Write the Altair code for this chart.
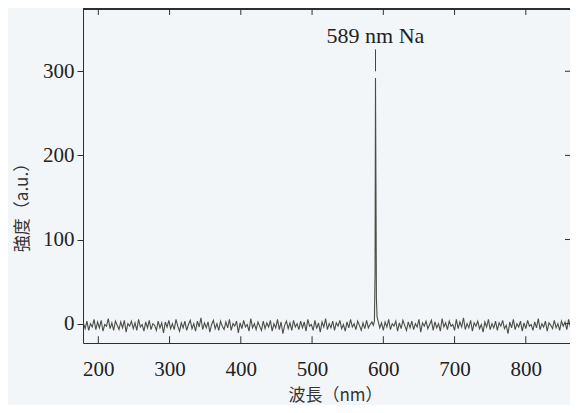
import altair as alt
import pandas as pd

# Wavelength grid (nm) of the spectrometer and intensity
left_start, left_step = 179, 2.5     # 179 ... 584 nm
right_start, right_step = 592.5, 2.5  # 592.5 ... 872.5 nm

left_intensity = [
    1, -6, 3, -8, 0, -4, 5, -7, 2, -5, 4, -9, -1, -3, 6, -6, 1, -8, 3, -2,
    -7, 2, -5, 4, -10, 0, -3, 3, -6, 1, -8, 5, -4, -1, -9, 2, -5, 4, -7, 0,
    -2, -8, 3, -5, 1, -11, 2, -4, 4, -6, 0, -7, 5, -3, -9, 1, -5, 3, -8, -1,
    4, -6, 0, -9, 3, -4, 7, -7, 1, -5, 2, -10, -1, 4, -6, 0, -8, 3, -3, -7,
    2, -5, 5, -8, 0, -3, 3, -11, 1, -6, 4, -4, -1, -9, 6, -5, 0, -7, 2, -3,
    -8, 3, -6, 1, -4, 4, -9, 0, -5, 5, -7, 2, -12, -2, 3, -6, 1, -8, 4, -4,
    0, -7, 3, -5, 2, -9, 5, -3, -1, -8, 4, -6, 1, -10, 2, -4, 6, -7, 0, -5,
    3, -8, 1, -3, 4, -6, -1, -9, 2, -5, 5, -4, 0, -7, 3, -2, -8, 1, -6, 4,
    -5, -1, 2,
]
peak_wavelength = [586.0, 587.5, 588.4, 589.0, 589.6, 590.3, 591.2]
peak_intensity = [-2, 3, 60, 292, 175, 30, 8]
right_intensity = [
    4, -5, 1, -8, 2, -4, 5, -7, 0, -3, 3, -9, 1, -6, 4, -2, -8, 2, -5, 3,
    -7, 0, -4, 5, -10, 1, -3, 3, -6, -1, 4, -8, 2, -5, 0, -9, 6, -4, 1, -7,
    3, -3, -1, -8, 5, -6, 2, -4, 7, -7, 0, -5, 4, -9, 1, -3, 3, -6, -1, -10,
    2, -4, 5, -7, 0, -5, 3, -8, 1, -3, 4, -6, -2, -12, 2, -5, 5, -7, 0, -4,
    3, -9, 1, -6, 4, -3, -1, -8, 2, -5, 6, -7, 0, -4, 3, -9, 1, -2, -6, 4,
    -5, 0, -8, 3, -3, 2, -7, 5, -4, -1, -9, 2, -5,
]

x_ticks = [200, 300, 400, 500, 600, 700, 800]
y_ticks = [0, 100, 200, 300]
x_domain = [178.5, 862]
y_domain = [-23, 374]

annot_text = "589 nm Na"
annot_x = 589
annot_y = 333
leader = [300, 326]

wl = ([left_start + left_step * i for i in range(len(left_intensity))]
      + peak_wavelength
      + [right_start + right_step * i for i in range(len(right_intensity))])
inten = left_intensity + peak_intensity + right_intensity
df = pd.DataFrame({"wl": wl, "I": inten})

ink = "#2e2e2e"
serif = "Liberation Serif"
cjk = "Noto Sans CJK JP"

xs = alt.Scale(domain=x_domain, nice=False, zero=False)
ys = alt.Scale(domain=y_domain, nice=False, zero=False)

line = alt.Chart(df).mark_line(color="#4d4d47", strokeWidth=1.1, clip=True).encode(
    x=alt.X("wl:Q", scale=xs, title="波長（nm）",
            axis=alt.Axis(values=x_ticks, ticks=False, tickSize=0, grid=False,
                          domainColor=ink, labelFont=serif, labelFontSize=21,
                          labelColor="#222", labelPadding=26, labelBaseline="middle",
                          titleFont=cjk, titleFontSize=17, titleFontWeight="normal",
                          titleColor="#333", titleX=252, titleY=52,
                          titleBaseline="middle")),
    y=alt.Y("I:Q", scale=ys, title="強度（a.u.）",
            axis=alt.Axis(values=y_ticks, tickSize=6, tickColor=ink, grid=False,
                          domainColor=ink, labelFont=serif, labelFontSize=21,
                          labelColor="#222", labelPadding=3,
                          titleFont=cjk, titleFontSize=17, titleFontWeight="normal",
                          titleColor="#333", titleX=-61, titleY=194,
                          titleBaseline="middle")),
)

xt = pd.DataFrame({"wl": x_ticks})
yt = pd.DataFrame({"I": y_ticks})

bottom_ticks = alt.Chart(xt).mark_rule(color=ink).encode(
    x=alt.X("wl:Q", scale=xs),
    y=alt.datum(y_domain[0]), y2=alt.datum(y_domain[0] + 8))
top_ticks = alt.Chart(xt).mark_rule(color=ink).encode(
    x=alt.X("wl:Q", scale=xs),
    y=alt.datum(y_domain[1]), y2=alt.datum(y_domain[1] - 7))
right_ticks = alt.Chart(yt).mark_rule(color=ink).encode(
    y=alt.Y("I:Q", scale=ys),
    x=alt.datum(x_domain[1]), x2=alt.datum(x_domain[1] - 7))
top_border = alt.Chart(xt).mark_rule(color=ink).encode(y=alt.datum(y_domain[1]))

annot_df = pd.DataFrame({"wl": [annot_x], "label": [annot_text],
                         "I": [annot_y], "ya": [leader[0]], "yb": [leader[1]]})
label = alt.Chart(annot_df).mark_text(font=serif, fontSize=22, color="#222",
                                      baseline="alphabetic", align="center").encode(
    x=alt.X("wl:Q", scale=xs), y=alt.Y("I:Q", scale=ys),
    text="label:N")
leader_rule = alt.Chart(annot_df).mark_rule(color="#444", strokeWidth=1).encode(
    x=alt.X("wl:Q", scale=xs), y=alt.Y("ya:Q", scale=ys),
    y2="yb:Q")

chart = alt.layer(line, bottom_ticks, top_ticks, right_ticks, top_border,
                  leader_rule, label).properties(
    width=487, height=334,
    autosize=alt.AutoSizeParams(type="none"),
    padding={"left": 75, "top": 1, "right": 0, "bottom": 62},
    background="#f3f6f9",
).configure_view(stroke=None)

chart.save("out.html", embed_options={"renderer": "svg", "actions": False})
